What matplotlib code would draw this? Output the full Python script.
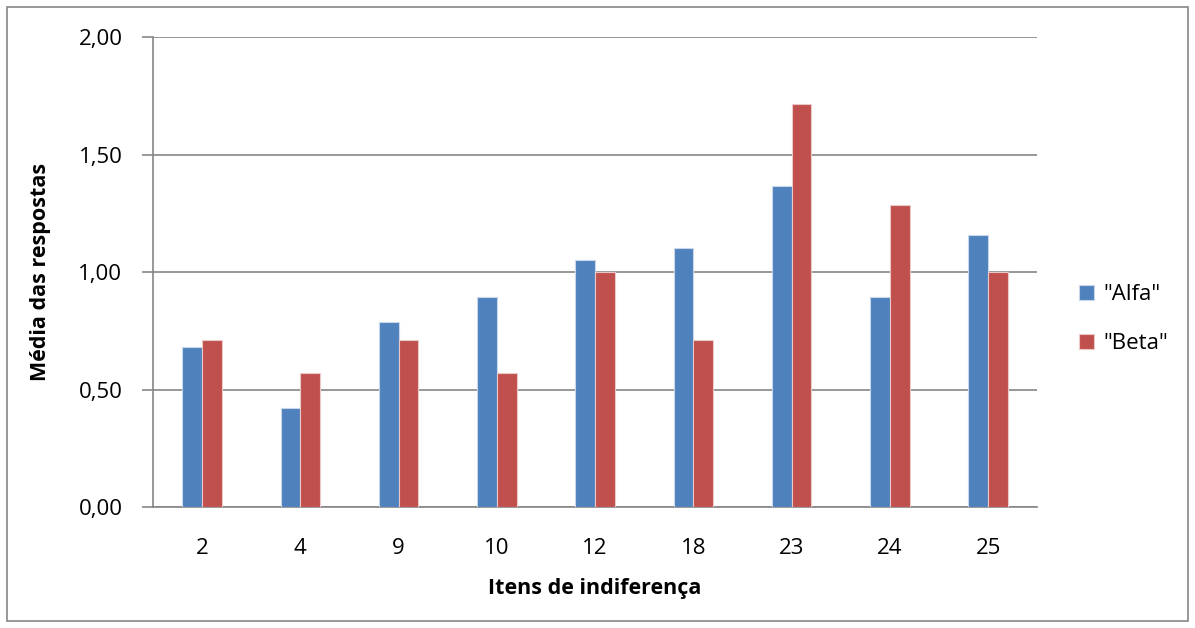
import matplotlib
matplotlib.use("Agg")
import matplotlib.pyplot as plt
import numpy as np

categories = ["2", "4", "9", "10", "12", "18", "23", "24", "25"]
alfa = [0.684, 0.421, 0.789, 0.895, 1.053, 1.105, 1.368, 0.895, 1.158]
beta = [0.714, 0.571, 0.714, 0.571, 1.000, 0.714, 1.714, 1.286, 1.000]
yticks = [0.0, 0.5, 1.0, 1.5, 2.0]
ytick_labels = ["0,00", "0,50", "1,00", "1,50", "2,00"]

plt.rcParams['font.family'] = ['Open Sans', 'DejaVu Sans']

fig = plt.figure(figsize=(11.95, 6.28), dpi=100)
ax = fig.add_axes([0.128, 0.192, 0.740, 0.749])

x = np.arange(len(categories))
w = 0.2
blue = "#4F81BD"
red = "#C0504D"
ax.bar(x - w / 2, alfa, w, color=blue, edgecolor="#C9D7EA", linewidth=0.8, label='"Alfa"', zorder=3)
ax.bar(x + w / 2, beta, w, color=red, edgecolor="#EAC9C8", linewidth=0.8, label='"Beta"', zorder=3)

ax.set_xlim(-0.5, len(categories) - 0.5)
ax.set_ylim(0, 2.0)
ax.set_yticks(yticks)
ax.set_yticklabels(ytick_labels)
ax.set_xticks(x)
ax.set_xticklabels(categories)
ax.tick_params(axis="y", length=8, width=1.2, color="#868686", labelsize=16, pad=14)
ax.tick_params(axis="x", length=0, labelsize=16, pad=22)

ax.grid(axis="y", color="#868686", linewidth=1.2, zorder=0)
for s in ["top", "right"]:
    ax.spines[s].set_visible(False)
for s in ["left", "bottom"]:
    ax.spines[s].set_color("#868686")
    ax.spines[s].set_linewidth(1.2)

ax.set_xlabel("Itens de indiferença", fontsize=15.5, fontweight="bold", labelpad=14)
ax.set_ylabel("Média das respostas", fontsize=15.5, fontweight="bold", labelpad=20)

leg = ax.legend(loc="center left", bbox_to_anchor=(1.025, 0.40), frameon=False,
                fontsize=16, handlelength=0.65, handleheight=0.65,
                handletextpad=0.45, labelspacing=1.25)

border = plt.Rectangle((0.006, 0.011), 0.988, 0.978, transform=fig.transFigure,
                       fill=False, edgecolor="#868686", linewidth=1.2)
fig.patches.append(border)

fig.savefig("out.png", dpi=100)
